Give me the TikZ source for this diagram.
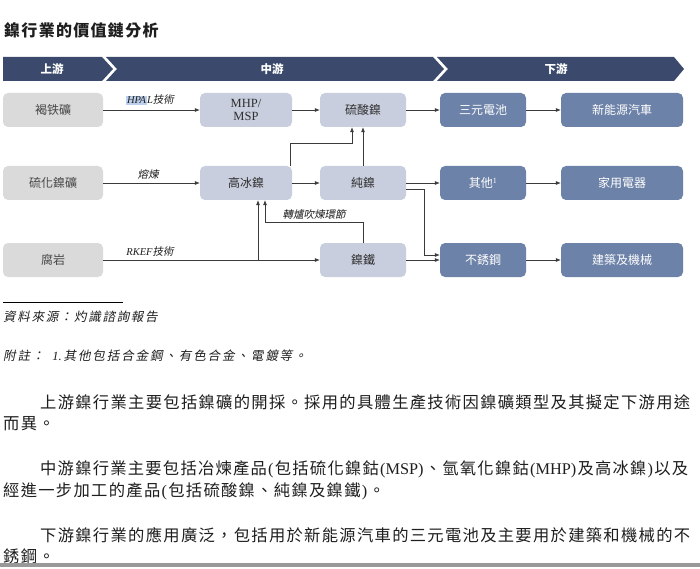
\documentclass[tikz,border=0pt]{standalone}
\usepackage{fontspec}
\setmainfont{Liberation Serif}
\newfontfamily\cjk{Noto Sans CJK TC}
\newfontfamily\cjki[FakeSlant=0.2]{Noto Sans CJK TC}
\usetikzlibrary{arrows.meta}
\definecolor{navy}{HTML}{3B4A6C}
\definecolor{upg}{HTML}{DADADA}
\definecolor{midb}{HTML}{C8CEDD}
\definecolor{dnb}{HTML}{6D82A8}
\definecolor{arrc}{HTML}{3A3A3A}
\definecolor{hl}{HTML}{BCD0EE}
\definecolor{txt}{HTML}{1E1E1E}
\makeatletter
\def\sp@stop{\sp@stop}
\def\sp@sep{\hfil}
\def\sp@loop#1{\def\sp@tmp{#1}\ifx\sp@tmp\sp@stop\else\sp@sep{#1}\expandafter\sp@loop\fi}
\def\sp@first#1{{#1}\sp@loop}
\newcommand\jline[2]{\makebox[#1][s]{\def\sp@sep{\hfil}\sp@first#2\sp@stop}}
\newcommand\kline[2]{\mbox{\def\sp@sep{\hspace{#1}}\sp@first#2\sp@stop}}
\makeatother
\begin{document}
\begin{tikzpicture}[x=1pt,y=-1pt,
  box/.style={rounded corners=5pt, minimum height=34pt, inner sep=0pt, align=center,
    font=\cjk\fontsize{12}{14}\selectfont},
  upbox/.style={box, fill=upg, text=black!72},
  midbox/.style={box, fill=midb, text=black!82},
  dnbox/.style={box, fill=dnb, text=white},
  arr/.style={draw=arrc, line width=0.65pt, -{Latex[length=5pt,width=4pt]}},
  lbl/.style={inner sep=0pt, text=txt, font=\fontsize{10.5}{12}\selectfont},
  bannertext/.style={inner sep=0pt, text=white, font=\cjk\bfseries\fontsize{11.5}{13}\selectfont},
  para/.style={anchor=west, inner sep=0pt, text=txt, font=\cjk\fontsize{16.3}{18}\selectfont},
  note/.style={anchor=west, inner sep=0pt, text=txt, font=\cjki\fontsize{12.5}{14}\selectfont}]
\useasboundingbox (0,0) rectangle (700,569);
\fill[white] (0,0) rectangle (700,569);
% title
\node[anchor=west, inner sep=0pt, text=txt, font=\cjk\bfseries\fontsize{16}{18}\selectfont] (title) at (4,30) {\kline{1.3pt}{鎳行業的價值鏈分析}};
% banner
\fill[navy] (3,57) -- (102,57) -- (113,69) -- (102,81) -- (3,81) -- cycle;
\fill[navy] (106,57) -- (433,57) -- (444,69) -- (433,81) -- (106,81) -- (117,69) -- cycle;
\fill[navy] (437,57) -- (674,57) -- (684,69) -- (674,81) -- (437,81) -- (448,69) -- cycle;
\node[bannertext] (bu) at (52,69) {上游};
\node[bannertext] (bm) at (272,69) {中游};
\node[bannertext] (bd) at (556,69) {下游};
% boxes
\node[upbox, minimum width=100pt] (kh) at (53,110) {褐铁礦};
\node[upbox, minimum width=100pt] (lh) at (53,183) {硫化鎳礦};
\node[upbox, minimum width=100pt] (fy) at (53,260) {腐岩};
\node[midbox, minimum width=92pt, font=\rmfamily\fontsize{12.5}{13}\selectfont] (mhp) at (246,110) {MHP/\\MSP};
\node[midbox, minimum width=92pt] (gb) at (246,183) {高冰鎳};
\node[midbox, minimum width=86pt] (ls) at (363,110) {硫酸鎳};
\node[midbox, minimum width=86pt] (cn) at (363,183) {純鎳};
\node[midbox, minimum width=86pt] (nt) at (363,260) {鎳鐵};
\node[dnbox, minimum width=86pt] (sy) at (483,110) {三元電池};
\node[dnbox, minimum width=86pt] (qt) at (483,183) {其他\textsuperscript{\rmfamily 1}};
\node[dnbox, minimum width=86pt] (bx) at (483,260) {不銹鋼};
\node[dnbox, minimum width=122pt] (xn) at (622,110) {新能源汽車};
\node[dnbox, minimum width=122pt] (jy) at (622,183) {家用電器};
\node[dnbox, minimum width=122pt] (jz) at (622,260) {建築及機械};
% connectors
\draw[arr] (kh) -- (mhp);
\draw[arr] (mhp) -- (ls);
\draw[arr] (ls) -- (sy);
\draw[arr] (sy) -- (xn);
\draw[arr] (lh) -- (gb);
\draw[arr] (gb) -- (cn);
\draw[arr] ([xshift=44pt]gb.north) -- ++(0,-22) -| ([xshift=-11pt]ls.south);
\draw[arr] (cn.north) -- (ls.south);
\draw[arr] (cn) -- (qt);
\draw[arr] ([yshift=-6pt]cn.east) -- ++(18,0) |- ([yshift=5pt]bx.west);
\draw[arr] (fy) -- (nt);
\coordinate (br) at (258,260);
\draw[arr] (br) -- (br |- gb.south);
\draw[arr] (nt.north) -- ++(0,-20) -| ([xshift=19pt]gb.south);
\draw[arr] (nt) -- (bx);
\draw[arr] (qt) -- (jy);
\draw[arr] (bx) -- (jz);
% labels
\node[lbl] (lhpal) at (150,100) {{\itshape\setlength{\fboxsep}{1pt}\colorbox{hl}{HPA}L}{\cjki 技術}};
\node[lbl] (lry) at (148,175) {\cjki 熔煉};
\node[lbl] (lrk) at (150,252) {{\itshape RKEF}{\cjki 技術}};
\node[lbl] (lzl) at (314,214) {\cjki 轉爐吹煉環節};
% notes
\draw[black, line width=0.5pt] (3,302) -- (123,302);
\node[note] (src) at (3,317) {\kline{1.7pt}{資料來源：灼識諮詢報告}};
\node[note] (fn) at (3,356) {\kline{1.9pt}{附註：{\hspace{6pt}\rmfamily\itshape 1.}其他包括合金鋼、有色合金、電鍍等。}};
% paragraphs
\node[para] (p1a) at (40,402) {\jline{650pt}{上游鎳行業主要包括鎳礦的開採。採用的具體生產技術因鎳礦類型及其擬定下游用途}};
\node[para] (p1b) at (3,424) {\kline{1.3pt}{而異。}};
\node[para] (p2a) at (40,469) {\jline{648pt}{中游鎳行業主要包括冶煉產品{\rmfamily(}包括硫化鎳鈷{\rmfamily(MSP)}、氫氧化鎳鈷{\rmfamily(MHP)}及高冰鎳{\rmfamily)}以及}};
\node[para] (p2b) at (3,491) {\kline{1.3pt}{經進一步加工的產品{\rmfamily(}包括硫酸鎳、純鎳及鎳鐵{\rmfamily)}。}};
\node[para] (p3a) at (40,535) {\jline{650pt}{下游鎳行業的應用廣泛，包括用於新能源汽車的三元電池及主要用於建築和機械的不}};
\node[para] (p3b) at (3,556) {\kline{1.3pt}{銹鋼。}};
\fill[black!40] (0,563) rectangle (700,567);
\end{tikzpicture}
\end{document}
